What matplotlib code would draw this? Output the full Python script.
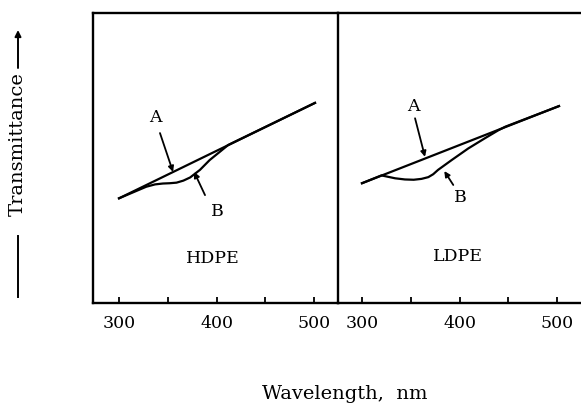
import matplotlib
matplotlib.use("Agg")
import matplotlib.pyplot as plt
from matplotlib.lines import Line2D

plt.rcParams['font.family'] = ['DejaVu Serif']

# curve A (unexposed) and curve B (exposed) for each film
hdpe_a_wl = [300, 501]
hdpe_a_t = [36.1, 69.0]
hdpe_b_wl = [300, 328, 337, 345, 352, 359, 366, 373, 383, 393, 404, 412, 501]
hdpe_b_t = [36.1, 40.1, 40.9, 41.2, 41.3, 41.5, 42.2, 43.3, 45.9, 49.3, 52.3, 54.5, 69.0]

ldpe_a_wl = [300, 502]
ldpe_a_t = [41.3, 67.9]
ldpe_b_wl = [300, 320, 327, 334, 344, 353, 361, 368, 373, 378, 392, 409, 426, 440, 447, 502]
ldpe_b_t = [41.3, 44.0, 43.5, 43.0, 42.6, 42.5, 42.8, 43.4, 44.4, 45.9, 49.3, 53.3, 56.8, 59.6, 60.8, 67.9]

ticks = [300, 350, 400, 450, 500]
tick_labels = ["300", "", "400", "", "500"]

W, H = 581, 404
fig = plt.figure(figsize=(W / 100, H / 100), dpi=100)

x0, x1, x2 = 93, 338, 582
ytop, ybot = 13, 303
ax1 = fig.add_axes([x0 / W, (H - ybot) / H, (x1 - x0) / W, (ybot - ytop) / H])
ax2 = fig.add_axes([x1 / W, (H - ybot) / H, (x2 - x1) / W, (ybot - ytop) / H])
ax2.patch.set_alpha(0)


def style(ax, xlim):
    ax.set_xlim(*xlim)
    ax.set_ylim(0, 100)
    ax.set_yticks([])
    ax.set_xticks(ticks)
    ax.set_xticklabels(tick_labels, fontsize=12.5)
    ax.tick_params(axis='x', direction='in', length=4, width=1.3, pad=9)
    for s in ax.spines.values():
        s.set_linewidth(1.7)


style(ax1, (273.3, 524.6))
style(ax2, (275.4, 525.6))
ax2.spines['left'].set_visible(False)
ax2.spines['right'].set_visible(False)

lw = 1.6
ax1.plot(hdpe_a_wl, hdpe_a_t, color='black', lw=lw)
ax1.plot(hdpe_b_wl, hdpe_b_t, color='black', lw=lw)
ax2.plot(ldpe_a_wl, ldpe_a_t, color='black', lw=lw)
ax2.plot(ldpe_b_wl, ldpe_b_t, color='black', lw=lw)

arr = dict(arrowstyle='-|>', color='black', lw=1.3, mutation_scale=8,
           shrinkA=0, shrinkB=0)
fs = 12.5
ax1.text(336.9, 63.8, "A", fontsize=fs, ha='center', va='center')
ax1.annotate("", xy=(355.4, 45.2), xytext=(342, 58.6), arrowprops=arr)
ax1.text(400.5, 31.7, "B", fontsize=fs, ha='center', va='center')
ax1.annotate("", xy=(377, 45.2), xytext=(388.2, 37.2), arrowprops=arr)
ax1.text(396.4, 15.5, "HDPE", fontsize=fs, ha='center', va='center')

ax2.text(352.6, 67.7, "A", fontsize=fs, ha='center', va='center')
ax2.annotate("", xy=(364.6, 50.4), xytext=(354.4, 63.7), arrowprops=arr)
ax2.text(400.5, 36.3, "B", fontsize=fs, ha='center', va='center')
ax2.annotate("", xy=(384.4, 45.5), xytext=(393.6, 40.7), arrowprops=arr)
ax2.text(398.8, 16.0, "LDPE", fontsize=fs, ha='center', va='center')

# axis titles
fig.text(345 / W, 1 - 394 / H, "Wavelength,  nm", fontsize=14,
         ha='center', va='center')
fig.text(18 / W, 1 - 144 / H, "Transmittance", fontsize=14, rotation=90,
         ha='center', va='center')
fig.add_artist(Line2D([18 / W, 18 / W], [1 - 297 / H, 1 - 236 / H],
                      color='black', lw=1.4))
fig.add_artist(plt.Annotation("", xy=(18 / W, 1 - 30 / H), xytext=(18 / W, 1 - 68 / H),
                              xycoords='figure fraction', textcoords='figure fraction',
                              arrowprops=dict(arrowstyle='-|>', color='black', lw=1.4,
                                              mutation_scale=9, shrinkA=0, shrinkB=0)))

fig.savefig("out.png", dpi=100)
